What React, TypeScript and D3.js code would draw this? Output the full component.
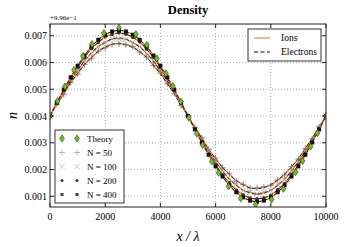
import React from 'react';
import * as d3 from 'd3';

// x grid of the simulated profiles
const X_SIM = [0, 250, 500, 750, 1000, 1250, 1500, 1750, 2000, 2250, 2500, 2750, 3000, 3250, 3500, 3750, 4000, 4250, 4500, 4750, 5000,
  5250, 5500, 5750, 6000, 6250, 6500, 6750, 7000, 7250, 7500, 7750, 8000, 8250, 8500, 8750, 9000, 9250, 9500, 9750, 10000];
const X_ELEC = [0, 500, 1000, 1500, 2000, 2500, 3000, 3500, 4000, 4500, 5000, 5500, 6000, 6500, 7000, 7500, 8000, 8500, 9000, 9500, 10000];

// ion density (offset from 0.996) per particle count
const ION_N50 = [0.00400, 0.00444, 0.00481, 0.00525, 0.00557, 0.00593, 0.00616, 0.00643, 0.00655, 0.00668, 0.00670,
  0.00666, 0.00659, 0.00639, 0.00620, 0.00589, 0.00561, 0.00521, 0.00485, 0.00440, 0.00402,
  0.00356, 0.00319, 0.00275, 0.00243, 0.00207, 0.00184, 0.00157, 0.00145, 0.00131, 0.00131,
  0.00135, 0.00141, 0.00161, 0.00180, 0.00211, 0.00239, 0.00279, 0.00315, 0.00360, 0.00400];
const ION_N100 = [0.00400, 0.00446, 0.00488, 0.00534, 0.00568, 0.00607, 0.00633, 0.00660, 0.00674, 0.00688, 0.00689,
  0.00687, 0.00674, 0.00660, 0.00633, 0.00607, 0.00568, 0.00534, 0.00488, 0.00447, 0.00398,
  0.00356, 0.00308, 0.00270, 0.00228, 0.00197, 0.00163, 0.00144, 0.00122, 0.00116, 0.00109,
  0.00115, 0.00122, 0.00144, 0.00163, 0.00197, 0.00228, 0.00270, 0.00308, 0.00356, 0.00400];
const ION_N200 = [0.00400, 0.00448, 0.00497, 0.00540, 0.00583, 0.00618, 0.00652, 0.00675, 0.00696, 0.00705, 0.00711,
  0.00706, 0.00694, 0.00677, 0.00650, 0.00620, 0.00581, 0.00542, 0.00495, 0.00449, 0.00400,
  0.00351, 0.00305, 0.00258, 0.00219, 0.00180, 0.00150, 0.00123, 0.00106, 0.00093, 0.00091,
  0.00094, 0.00104, 0.00125, 0.00148, 0.00182, 0.00217, 0.00260, 0.00303, 0.00353, 0.00400];
const ION_N400 = [0.00400, 0.00450, 0.00499, 0.00545, 0.00588, 0.00626, 0.00659, 0.00685, 0.00704, 0.00716, 0.00720,
  0.00716, 0.00704, 0.00685, 0.00659, 0.00626, 0.00588, 0.00545, 0.00499, 0.00450, 0.00400,
  0.00350, 0.00301, 0.00255, 0.00212, 0.00174, 0.00141, 0.00115, 0.00096, 0.00084, 0.00080,
  0.00084, 0.00096, 0.00115, 0.00141, 0.00174, 0.00212, 0.00255, 0.00301, 0.00350, 0.00400];

// electron density on a coarser grid
const ELEC_N50 = [0.00400, 0.00485, 0.00560, 0.00620, 0.00658, 0.00672, 0.00656, 0.00619, 0.00557, 0.00482, 0.00401,
  0.00316, 0.00240, 0.00181, 0.00142, 0.00128, 0.00144, 0.00183, 0.00242, 0.00318, 0.00400];
const ELEC_N100 = [0.00400, 0.00491, 0.00571, 0.00636, 0.00677, 0.00692, 0.00675, 0.00634, 0.00569, 0.00490, 0.00399,
  0.00309, 0.00229, 0.00164, 0.00123, 0.00108, 0.00123, 0.00164, 0.00229, 0.00309, 0.00400];
const ELEC_N200 = [0.00400, 0.00496, 0.00582, 0.00651, 0.00694, 0.00709, 0.00695, 0.00651, 0.00582, 0.00496, 0.00400,
  0.00304, 0.00218, 0.00149, 0.00105, 0.00090, 0.00105, 0.00149, 0.00218, 0.00304, 0.00400];
const ELEC_N400 = [0.00400, 0.00499, 0.00588, 0.00659, 0.00704, 0.00720, 0.00704, 0.00659, 0.00588, 0.00499, 0.00400,
  0.00301, 0.00212, 0.00141, 0.00096, 0.00080, 0.00096, 0.00141, 0.00212, 0.00301, 0.00400];

// theory points
const X_THEORY = [0, 270, 540, 870, 1190, 1520, 1950, 2500, 3110, 3510, 3870, 4200, 4450, 4740, 5030, 5320, 5530,
  5860, 6110, 6470, 6910, 7450, 8030, 8460, 8900, 9150, 9440, 9690, 10000];
const N_THEORY = [0.00400, 0.00456, 0.00510, 0.00572, 0.00624, 0.00669, 0.00710, 0.00730, 0.00706, 0.00666, 0.00615,
  0.00559, 0.00512, 0.00454, 0.00394, 0.00334, 0.00292, 0.00230, 0.00188, 0.00137, 0.00092, 0.00070, 0.00088,
  0.00128, 0.00190, 0.00232, 0.00286, 0.00336, 0.00400];

const X_TICKS = [0, 2000, 4000, 6000, 8000, 10000];
const Y_TICKS = [0.001, 0.002, 0.003, 0.004, 0.005, 0.006, 0.007];
const LABELS = ['Theory', 'N = 50', 'N = 100', 'N = 200', 'N = 400'];

const W = 346, H = 247;
const M = { left: 50, right: 20, top: 24, bottom: 40 };
const ORANGE = '#f57f3a';
const FONT = '"Liberation Serif", "DejaVu Serif", serif';

const x = d3.scaleLinear().domain([0, 10000]).range([M.left, W - M.right]);
const y = d3.scaleLinear().domain([0.0006, 0.00744]).range([H - M.bottom, M.top]);

function Marker({ kind, cx, cy, legend }: { kind: string; cx: number; cy: number; legend?: boolean }) {
  if (kind === 'plus') {
    return <path d={`M${cx - 3},${cy}H${cx + 3}M${cx},${cy - 3}V${cy + 3}`} stroke={legend ? '#aaa' : '#6e6e6e'} strokeWidth={0.8} />;
  }
  if (kind === 'x') {
    return <path d={`M${cx - 2.6},${cy - 2.6}L${cx + 2.6},${cy + 2.6}M${cx - 2.6},${cy + 2.6}L${cx + 2.6},${cy - 2.6}`} stroke={legend ? '#bbb' : '#9a9a9a'} strokeWidth={0.8} />;
  }
  if (kind === 'circle') {
    return <circle cx={cx} cy={cy} r={legend ? 1.5 : 1.8} fill="#3a3a3a" />;
  }
  if (kind === 'square') {
    const s = legend ? 3 : 4;
    return <rect x={cx - s / 2} y={cy - s / 2} width={s} height={s} fill={legend ? '#444' : '#111'} />;
  }
  return <path d={`M${cx},${cy - 3.6}L${cx + 2.4},${cy}L${cx},${cy + 3.6}L${cx - 2.4},${cy}Z`} fill="#6cc21c" stroke="#1a1a1a" strokeWidth={0.5} />;
}

const SIMS = [
  { ion: ION_N50, elec: ELEC_N50, kind: 'plus' },
  { ion: ION_N100, elec: ELEC_N100, kind: 'x' },
  { ion: ION_N200, elec: ELEC_N200, kind: 'circle' },
  { ion: ION_N400, elec: ELEC_N400, kind: 'square' },
];
const KINDS = ['diamond', 'plus', 'x', 'circle', 'square'];

export default function App() {
  const ionLine = d3.line<number>().x((_, i) => x(X_SIM[i])).y(d => y(d)).curve(d3.curveCatmullRom);
  const elecLine = d3.line<number>().x((_, i) => x(X_ELEC[i])).y(d => y(d)).curve(d3.curveCatmullRom);
  const x0 = M.left, x1 = W - M.right, y0 = M.top, y1 = H - M.bottom;

  return (
    <svg width={W} height={H} style={{ position: 'absolute', left: 0, top: 0, background: '#fff' }} fontFamily={FONT}>
      <defs>
        <clipPath id="plot"><rect x={x0} y={y0} width={x1 - x0} height={y1 - y0} /></clipPath>
      </defs>
      <text x={(x0 + x1) / 2} y={14} textAnchor="middle" fontSize={12.5} fontWeight="bold">Density</text>
      <text x={x0} y={20} fontSize={7}>+9.96e−1</text>

      {/* grid */}
      {X_TICKS.slice(1, -1).map(t => (
        <line key={'gx' + t} x1={x(t)} x2={x(t)} y1={y0} y2={y1} stroke="#8a8a8a" strokeWidth={0.7} strokeDasharray="1,2" />
      ))}
      {Y_TICKS.map(t => (
        <line key={'gy' + t} x1={x0} x2={x1} y1={y(t)} y2={y(t)} stroke="#8a8a8a" strokeWidth={0.7} strokeDasharray="1,2" />
      ))}

      <g clipPath="url(#plot)">
        {SIMS.map((s, k) => (
          <g key={k}>
            <path d={ionLine(s.ion) || ''} fill="none" stroke={ORANGE} strokeWidth={1.2} />
            <path d={elecLine(s.elec) || ''} fill="none" stroke="#111" strokeWidth={0.9} strokeDasharray="4,2" />
            {s.ion.map((v, i) => <Marker key={i} kind={s.kind} cx={x(X_SIM[i])} cy={y(v)} />)}
          </g>
        ))}
        {N_THEORY.map((v, i) => <Marker key={'t' + i} kind="diamond" cx={x(X_THEORY[i])} cy={y(v)} />)}
      </g>

      {/* frame and ticks */}
      <rect x={x0} y={y0} width={x1 - x0} height={y1 - y0} fill="none" stroke="#222" strokeWidth={1} />
      {X_TICKS.map(t => (
        <g key={'tx' + t}>
          <line x1={x(t)} x2={x(t)} y1={y1} y2={y1 - 4} stroke="#222" />
          <line x1={x(t)} x2={x(t)} y1={y0} y2={y0 + 4} stroke="#222" />
          <text x={x(t)} y={y1 + 13} textAnchor="middle" fontSize={10}>{t}</text>
        </g>
      ))}
      {Y_TICKS.map(t => (
        <g key={'ty' + t}>
          <line x1={x0} x2={x0 + 4} y1={y(t)} y2={y(t)} stroke="#222" />
          <line x1={x1} x2={x1 - 4} y1={y(t)} y2={y(t)} stroke="#222" />
          <text x={x0 - 3} y={y(t) + 3.5} textAnchor="end" fontSize={10}>{t.toFixed(3)}</text>
        </g>
      ))}
      <text x={(x0 + x1) / 2} y={241} textAnchor="middle" fontSize={14} fontStyle="italic">x / λ</text>
      <text transform={`translate(17,${(y0 + y1) / 2}) rotate(-90)`} textAnchor="middle" fontSize={14} fontStyle="italic">n</text>

      {/* upper right legend */}
      <rect x={248} y={29} width={73} height={32} fill="#fff" stroke="#333" strokeWidth={1} />
      <line x1={254} x2={270} y1={38} y2={38} stroke={ORANGE} strokeWidth={1.2} />
      <text x={281} y={41} fontSize={9.5}>Ions</text>
      <line x1={254} x2={270} y1={52} y2={52} stroke="#111" strokeWidth={1} strokeDasharray="4,2.5" />
      <text x={281} y={55} fontSize={9.5}>Electrons</text>

      {/* lower left legend */}
      <rect x={55} y={130} width={69} height={73} fill="#fff" stroke="#333" strokeWidth={1} />
      {LABELS.map((lab, i) => {
        const ly = 138.5 + i * 14;
        return (
          <g key={lab}>
            <Marker kind={KINDS[i]} cx={62} cy={ly} legend />
            <Marker kind={KINDS[i]} cx={77} cy={ly} legend />
            <text x={87} y={ly + 3} fontSize={9}>{lab}</text>
          </g>
        );
      })}
    </svg>
  );
}
